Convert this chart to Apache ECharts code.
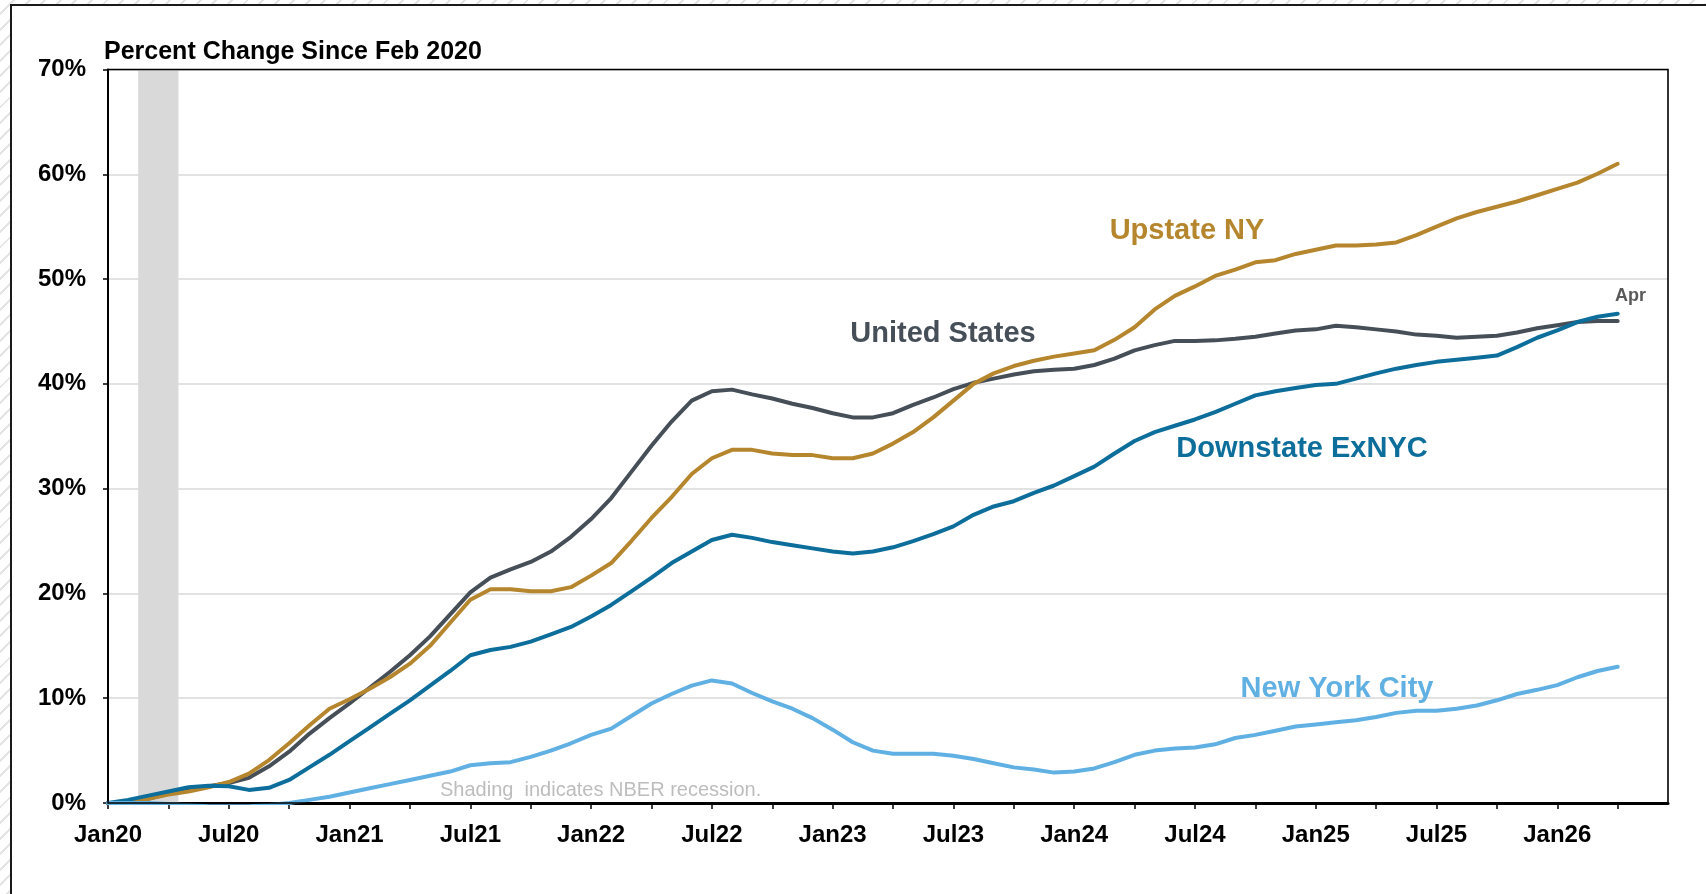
<!DOCTYPE html>
<html>
<head>
<meta charset="utf-8">
<title>House Price Change Since Feb 2020</title>
<script src="https://cdn.jsdelivr.net/npm/echarts@6/dist/echarts.min.js"></script>
<style>
  html, body { margin: 0; padding: 0; }
  body {
    width: 1706px; height: 894px; overflow: hidden;
    background: repeating-linear-gradient(135deg, #ffffff 0px, #ffffff 9px, #e4e4e4 9px, #e4e4e4 11px);
  }
  #chart { width: 1706px; height: 894px; }
</style>
</head>
<body>
<div id="chart"></div>
<script>
// Monthly observations, Jan 2020 through Apr 2026
const months = [
  'Jan20','Feb20','Mar20','Apr20','May20','Jun20','Jul20','Aug20','Sep20','Oct20','Nov20','Dec20',
  'Jan21','Feb21','Mar21','Apr21','May21','Jun21','Jul21','Aug21','Sep21','Oct21','Nov21','Dec21',
  'Jan22','Feb22','Mar22','Apr22','May22','Jun22','Jul22','Aug22','Sep22','Oct22','Nov22','Dec22',
  'Jan23','Feb23','Mar23','Apr23','May23','Jun23','Jul23','Aug23','Sep23','Oct23','Nov23','Dec23',
  'Jan24','Feb24','Mar24','Apr24','May24','Jun24','Jul24','Aug24','Sep24','Oct24','Nov24','Dec24',
  'Jan25','Feb25','Mar25','Apr25','May25','Jun25','Jul25','Aug25','Sep25','Oct25','Nov25','Dec25',
  'Jan26','Feb26','Mar26','Apr26'
];

// Percent change since Feb 2020
const unitedStates = [
  0, 0, 0.4, 0.9, 1.2, 1.6, 1.9, 2.4, 3.5, 4.9, 6.6, 8.1,
  9.5, 11.0, 12.5, 14.1, 15.9, 18.0, 20.1, 21.5, 22.3, 23.0, 24.0, 25.4,
  27.1, 29.1, 31.6, 34.1, 36.4, 38.4, 39.3, 39.45, 39.0, 38.6, 38.1, 37.7,
  37.2, 36.8, 36.8, 37.2, 38.0, 38.7, 39.5, 40.1, 40.5, 40.9, 41.2, 41.35,
  41.45, 41.8, 42.4, 43.2, 43.7, 44.1, 44.1, 44.15, 44.3, 44.5, 44.8, 45.1,
  45.2, 45.55, 45.4, 45.2, 45.0, 44.7, 44.6, 44.4, 44.5, 44.6, 44.9, 45.3,
  45.6, 45.9, 46.0, 46.0
];
const upstateNY = [
  0, 0, 0.4, 0.8, 1.1, 1.5, 2.0, 2.8, 4.1, 5.7, 7.4, 9.0,
  9.9, 10.9, 12.0, 13.3, 15.0, 17.2, 19.4, 20.4, 20.4, 20.2, 20.2, 20.6,
  21.7, 22.9, 25.0, 27.2, 29.2, 31.4, 32.9, 33.7, 33.7, 33.35, 33.2, 33.2,
  32.9, 32.9, 33.35, 34.3, 35.4, 36.8, 38.4, 40.0, 41.0, 41.7, 42.2, 42.6,
  42.9, 43.2, 44.2, 45.4, 47.1, 48.4, 49.3, 50.3, 50.9, 51.6, 51.8, 52.4,
  52.8, 53.2, 53.2, 53.3, 53.5, 54.2, 55.0, 55.8, 56.4, 56.9, 57.4, 58.0,
  58.6, 59.2, 60.05, 61.0
];
const downstateExNYC = [
  0, 0.3, 0.7, 1.1, 1.5, 1.65, 1.6, 1.25, 1.45, 2.2, 3.4, 4.6,
  5.9, 7.2, 8.5, 9.8, 11.2, 12.6, 14.1, 14.6, 14.9, 15.4, 16.1, 16.8,
  17.8, 18.9, 20.2, 21.5, 22.9, 24.0, 25.1, 25.6, 25.3, 24.9, 24.6, 24.3,
  24.0, 23.8, 24.0, 24.4, 25.0, 25.65, 26.4, 27.5, 28.3, 28.8, 29.6, 30.3,
  31.2, 32.1, 33.35, 34.55, 35.4, 36.0, 36.6, 37.3, 38.1, 38.9, 39.3, 39.6,
  39.9, 40.0, 40.5, 41.0, 41.45, 41.8, 42.1, 42.3, 42.5, 42.7, 43.5, 44.4,
  45.1, 45.9, 46.4, 46.7
];
const newYorkCity = [
  0, 0, 0, -0.1, -0.2, -0.3, -0.3, -0.3, -0.2, 0.0, 0.3, 0.6,
  1.0, 1.4, 1.8, 2.2, 2.6, 3.0, 3.6, 3.8, 3.9, 4.4, 5.0, 5.7,
  6.5, 7.1, 8.3, 9.5, 10.4, 11.2, 11.7, 11.4, 10.5, 9.7, 9.0, 8.1,
  7.0, 5.8, 5.0, 4.7, 4.7, 4.7, 4.5, 4.2, 3.8, 3.4, 3.2, 2.9,
  3.0, 3.3, 3.9, 4.6, 5.0, 5.2, 5.3, 5.6, 6.2, 6.5, 6.9, 7.3,
  7.5, 7.7, 7.9, 8.2, 8.6, 8.8, 8.8, 9.0, 9.3, 9.8, 10.4, 10.8,
  11.25, 12.0, 12.6, 13.0
];

// Axis labels and ticks
const xTickLabels = ['Jan20','Jul20','Jan21','Jul21','Jan22','Jul22','Jan23','Jul23','Jan24','Jul24','Jan25','Jul25','Jan26'];
const xTickMonths = ['Jan20','Apr20','Jul20','Oct20','Jan21','Apr21','Jul21','Oct21','Jan22','Apr22','Jul22','Oct22',
  'Jan23','Apr23','Jul23','Oct23','Jan24','Apr24','Jul24','Oct24','Jan25','Apr25','Jul25','Oct25','Jan26','Apr26'];
const yTicks = [0, 10, 20, 30, 40, 50, 60, 70];

// NBER recession months (shaded)
const recessionMonths = ['Mar20', 'Apr20'];

const FONT = "'Liberation Sans', Arial, Helvetica, sans-serif";
const idx = m => months.indexOf(m);
const pairs = arr => arr.map((v, i) => [i, v]);

const series = [
  { name: 'United States', values: unitedStates, color: '#464f58' },
  { name: 'Upstate NY', values: upstateNY, color: '#b5862d' },
  { name: 'Downstate ExNYC', values: downstateExNYC, color: '#0d6e9c' },
  { name: 'New York City', values: newYorkCity, color: '#60b0e3' }
].map((s, k) => {
  const out = {
    name: s.name,
    type: 'line',
    data: pairs(s.values),
    symbol: 'none',
    smooth: false,
    lineStyle: { color: s.color, width: 4, cap: 'round', join: 'round' },
    itemStyle: { color: s.color },
    silent: true,
    z: 3 + k
  };
  if (k === 0) {
    out.markArea = {
      silent: true,
      itemStyle: { color: '#d9d9d9' },
      data: [[
        { xAxis: idx(recessionMonths[0]) - 0.5 },
        { xAxis: idx(recessionMonths[recessionMonths.length - 1]) + 0.5 }
      ]]
    };
  }
  return out;
});

const labelText = (text, x, y, color, size, align) => ({
  type: 'text',
  x: x, y: y,
  z: 20,
  style: {
    text: text,
    fill: color,
    font: `bold ${size}px ${FONT}`,
    textAlign: align || 'center',
    textVerticalAlign: 'middle'
  }
});

const chart = echarts.init(document.getElementById('chart'), null, { renderer: 'canvas', width: 1706, height: 894 });

chart.setOption({
  backgroundColor: 'transparent',
  animation: false,
  textStyle: { fontFamily: FONT },
  grid: { left: 108, top: 69.5, right: 38, bottom: 91, containLabel: false },
  xAxis: {
    type: 'value',
    min: 0,
    max: 77.5,
    axisLine: { show: true, onZero: false, lineStyle: { color: '#000', width: 3 } },
    axisTick: {
      show: true, length: 6, inside: false,
      customValues: xTickMonths.map(idx),
      lineStyle: { color: '#000', width: 1.5 }
    },
    axisLabel: {
      show: true,
      customValues: xTickLabels.map(idx),
      formatter: v => months[v],
      color: '#000', fontSize: 24, fontWeight: 'bold', fontFamily: FONT, margin: 20
    },
    splitLine: { show: false }
  },
  yAxis: {
    type: 'value',
    min: yTicks[0],
    max: yTicks[yTicks.length - 1],
    interval: 10,
    axisLine: { show: true, lineStyle: { color: '#000', width: 2 } },
    axisTick: { show: true, length: 5, inside: false, lineStyle: { color: '#000', width: 1.5 } },
    axisLabel: {
      formatter: '{value}%',
      color: '#000', fontSize: 24, fontWeight: 'bold', fontFamily: FONT, margin: 22
    },
    splitLine: { show: true, lineStyle: { color: '#d9d9d9', width: 1.5 } }
  },
  series: series,
  graphic: [
    // outer panel
    {
      type: 'rect', z: -10, silent: true,
      shape: { x: 11, y: 5, width: 1800, height: 1000 },
      style: { fill: '#ffffff', stroke: '#1a1a1a', lineWidth: 2 }
    },
    // plot frame
    {
      type: 'rect', z: 15, silent: true,
      shape: { x: 108, y: 69.5, width: 1560, height: 733.5 },
      style: { fill: 'none', stroke: '#000', lineWidth: 1.6 }
    },
    {
      type: 'text', x: 104, y: 52, z: 20,
      style: {
        text: 'Percent Change Since Feb 2020',
        fill: '#000',
        font: `bold 25px ${FONT}`,
        textAlign: 'left',
        textVerticalAlign: 'middle'
      }
    },
    labelText('Upstate NY', 1187, 231, '#b5862d', 29),
    labelText('United States', 943, 334, '#464f58', 29),
    labelText('Downstate ExNYC', 1302, 449, '#0d6e9c', 29),
    labelText('New York City', 1337, 689, '#60b0e3', 29),
    labelText('Apr', 1615, 296, '#595959', 18, 'left'),
    {
      type: 'text', x: 440, y: 790, z: 20,
      style: {
        text: 'Shading  indicates NBER recession.',
        fill: '#bdbdbd',
        font: `20px ${FONT}`,
        textAlign: 'left',
        textVerticalAlign: 'middle'
      }
    }
  ]
});
</script>
</body>
</html>
